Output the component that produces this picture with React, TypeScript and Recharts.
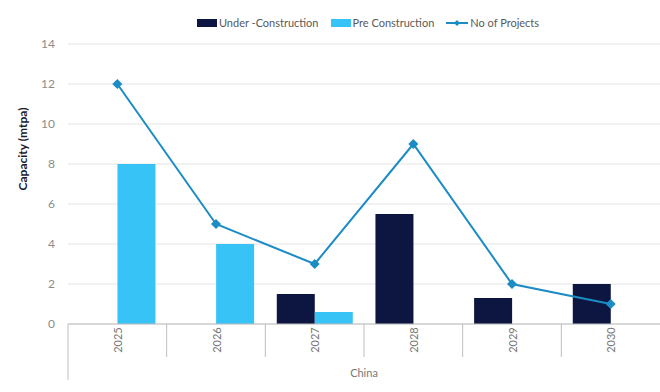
import React from 'react'
import { ComposedChart, Bar, Line, XAxis, YAxis, CartesianGrid, Legend, Label } from 'recharts'

const years = ['2025', '2026', '2027', '2028', '2029', '2030']
const underConstruction = [0, 0, 1.5, 5.5, 1.3, 2]
const preConstruction = [8, 4, 0.6, 0, 0, 0]
const projects = [12, 5, 3, 9, 2, 1]
const yTicks = [0, 2, 4, 6, 8, 10, 12, 14]

const NAVY = '#0c1640'
const SKY = '#38c3f7'
const LINE = '#1b8cc4'
const FONT = 'Lato, "Open Sans", sans-serif'

const data = years.map((y, i) => ({
  year: y,
  group: 'China',
  uc: underConstruction[i],
  pc: preConstruction[i],
  projects: projects[i],
}))

function Diamond(props: any) {
  const { cx, cy } = props
  if (cx == null || cy == null) return null
  return <polygon points={`${cx},${cy - 5} ${cx + 5},${cy} ${cx},${cy + 5} ${cx - 5},${cy}`} fill={LINE} />
}

function YearTick(props: any) {
  const { x, y, payload, index } = props
  const half = payload?.offset ?? 0
  return (
    <g>
      <line x1={x - half} y1={y} x2={x - half} y2={y + (index === 0 ? 56 : 33)} stroke="#bfbfbf" />
      <text x={x} y={y + 16} transform={`rotate(-90 ${x} ${y + 16})`} textAnchor="middle"
        dominantBaseline="central" fontSize={11} fill="#777" fontFamily={FONT}>
        {payload.value}
      </text>
    </g>
  )
}

function GroupTick(props: any) {
  const { x, y, payload } = props
  return (
    <text x={x} y={y + 14} textAnchor="middle" dominantBaseline="central" fontSize={11} fill="#777" fontFamily={FONT}>
      {payload.value}
    </text>
  )
}

function LegendBox() {
  const item = { display: 'flex', alignItems: 'center', marginRight: 12 }
  return (
    <div style={{ display: 'flex', justifyContent: 'center', paddingLeft: 88, fontFamily: FONT, fontSize: 11, color: '#595959' }}>
      <div style={item}>
        <span style={{ width: 20, height: 8, background: NAVY, marginRight: 2 }} />Under -Construction
      </div>
      <div style={item}>
        <span style={{ width: 20, height: 8, background: SKY, marginRight: 2 }} />Pre Construction
      </div>
      <div style={item}>
        <svg width={22} height={10} style={{ marginRight: 2 }}>
          <line x1={0} y1={5} x2={22} y2={5} stroke={LINE} strokeWidth={2} />
          <polygon points="11,2 14,5 11,8 8,5" fill={LINE} />
        </svg>
        No of Projects
      </div>
    </div>
  )
}

export default function App() {
  return (
    <div style={{ position: 'absolute', left: 0, top: 0, background: '#fff' }}>
      <ComposedChart width={660} height={392} data={data} margin={{ top: 24, right: 0, left: 0, bottom: 0 }}
        barCategoryGap="11.6%" barGap={0}>
        <CartesianGrid vertical={false} stroke="#e4e4e4" />
        <Legend verticalAlign="top" height={20} content={() => <LegendBox />} wrapperStyle={{ top: 16 }} />
        <XAxis xAxisId={0} dataKey="year" height={34} tickLine={false} tickSize={0} tickMargin={0}
          axisLine={{ stroke: '#bfbfbf' }} tick={<YearTick />} interval={0} />
        <XAxis xAxisId={1} dataKey="group" allowDuplicatedCategory={false} height={34}
          tickLine={false} axisLine={false} tickSize={0} tickMargin={0} tick={<GroupTick />} />
        <YAxis width={68} domain={[0, 14]} ticks={yTicks} axisLine={false} tickLine={false} tickSize={0}
          tickMargin={13} tick={{ fontSize: 12, fill: '#8c8c8c', fontFamily: FONT }}>
          <Label
            content={({ viewBox }: any) => {
              const cx = viewBox.x + 22
              const cy = viewBox.y + viewBox.height / 2 - 35
              return (
                <text x={cx} y={cy} transform={`rotate(-90 ${cx} ${cy})`} textAnchor="middle"
                  dominantBaseline="central" fontSize={12} fontWeight={700} fill="#1a1a2e" fontFamily={FONT}>
                  Capacity (mtpa)
                </text>
              )
            }}
          />
        </YAxis>
        <Bar xAxisId={0} dataKey="uc" name="Under -Construction" fill={NAVY} isAnimationActive={false} />
        <Bar xAxisId={0} dataKey="pc" name="Pre Construction" fill={SKY} isAnimationActive={false} />
        <Line xAxisId={0} dataKey="projects" name="No of Projects" stroke={LINE} strokeWidth={2}
          dot={<Diamond />} activeDot={false} isAnimationActive={false} />
      </ComposedChart>
    </div>
  )
}
